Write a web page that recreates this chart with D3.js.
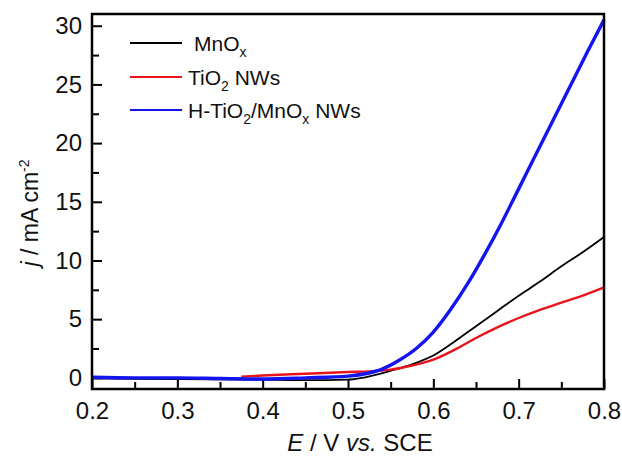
<!DOCTYPE html>
<html lang="en">
<head>
    <meta charset="utf-8">
    <title>LSV curves</title>
    <style>
        body { margin: 0; background: #fff; }
        svg text { font-family: "Liberation Sans", Arial, sans-serif; fill: #111; }
        .tick text { font-size: 24px; }
        .tick line { stroke: #000; stroke-width: 2; }
        .domain { display: none; }
    </style>
    <script src="https://cdn.jsdelivr.net/npm/d3@7"></script>
</head>
<body>
    <svg width="622" height="457"></svg>
    <script>
        // potential (V vs SCE) and current density (mA cm-2)
        const mnoxE = [0.2, 0.3, 0.4, 0.45, 0.5, 0.52, 0.55, 0.575, 0.6, 0.625, 0.65, 0.675, 0.7, 0.725, 0.75, 0.775, 0.8];
        const mnoxJ = [-0.05, -0.1, -0.15, -0.2, -0.15, 0.05, 0.6, 1.15, 1.9, 3.1, 4.4, 5.7, 7.0, 8.2, 9.5, 10.7, 12.0];

        const tioE = [0.375, 0.4, 0.45, 0.5, 0.525, 0.55, 0.575, 0.6, 0.625, 0.65, 0.675, 0.7, 0.725, 0.75, 0.775, 0.8];
        const tioJ = [0.1, 0.2, 0.35, 0.5, 0.55, 0.7, 1.05, 1.55, 2.4, 3.4, 4.3, 5.1, 5.8, 6.4, 7.0, 7.7];

        const htioE = [0.2, 0.25, 0.3, 0.35, 0.4, 0.45, 0.5, 0.52, 0.54, 0.56, 0.58, 0.6, 0.62, 0.64, 0.66, 0.68, 0.7, 0.72, 0.74, 0.76, 0.78, 0.8];
        const htioJ = [0.05, 0.0, 0.0, -0.05, -0.1, 0.0, 0.15, 0.35, 0.75, 1.5, 2.5, 3.9, 5.8, 8.0, 10.5, 13.2, 16.1, 19.0, 21.9, 24.8, 27.7, 30.5];

        const xTicks = [0.2, 0.3, 0.4, 0.5, 0.6, 0.7, 0.8];
        const xMinor = [0.25, 0.35, 0.45, 0.55, 0.65, 0.75];
        const yTicks = [0, 5, 10, 15, 20, 25, 30];
        const yMinor = [2.5, 7.5, 12.5, 17.5, 22.5, 27.5];

        const series = [
            { name: "black", E: mnoxE, J: mnoxJ, color: "#000", w: 1.8 },
            { name: "red", E: tioE, J: tioJ, color: "#e8141c", w: 2.4 },
            { name: "blue", E: htioE, J: htioJ, color: "#1414ee", w: 3.4 }
        ];

        var svg = d3.select("svg");
        var pl = 92, pr = 604, pt = 14, pb = 389;

        var x = d3.scaleLinear().domain([0.2, 0.8]).range([pl, pr]);
        var y = d3.scaleLinear().domain([-0.95, 31]).range([pb, pt]);

        // axes with inward ticks
        svg.append("g")
            .attr("transform", "translate(0," + pb + ")")
            .call(d3.axisBottom(x).tickValues(xTicks).tickSize(-10).tickPadding(13).tickFormat(d3.format(".1f")));
        svg.append("g")
            .attr("transform", "translate(0," + pb + ")")
            .call(d3.axisBottom(x).tickValues(xMinor).tickSize(-7).tickFormat(""));
        svg.append("g")
            .attr("transform", "translate(" + pl + ",0)")
            .call(d3.axisLeft(y).tickValues(yTicks).tickSize(-10).tickPadding(10));
        svg.append("g")
            .attr("transform", "translate(" + pl + ",0)")
            .call(d3.axisLeft(y).tickValues(yMinor).tickSize(-7).tickFormat(""));

        var line = d3.line().x(d => x(d[0])).y(d => y(d[1])).curve(d3.curveMonotoneX);

        svg.append("g").selectAll("path")
            .data(series)
            .join("path")
            .attr("d", s => line(s.E.map((e, i) => [e, s.J[i]])))
            .attr("fill", "none")
            .attr("stroke", s => s.color)
            .attr("stroke-width", s => s.w)
            .attr("stroke-linejoin", "round");

        // frame
        svg.append("rect")
            .attr("x", pl).attr("y", pt)
            .attr("width", pr - pl).attr("height", pb - pt)
            .attr("fill", "none").attr("stroke", "#000").attr("stroke-width", 2.5);

        // legend
        var leg = svg.append("g");
        var rows = [
            { color: "#000", y: 43, tx: 194, parts: [["MnO", 0], ["x", 1]] },
            { color: "#e8141c", y: 77, tx: 188, parts: [["TiO", 0], ["2", 1], [" NWs", 0]] },
            { color: "#1414ee", y: 110, tx: 188, parts: [["H-TiO", 0], ["2", 1], ["/MnO", 0], ["x", 1], [" NWs", 0]] }
        ];
        rows.forEach(function (r) {
            leg.append("line")
                .attr("x1", 130).attr("x2", 182)
                .attr("y1", r.y).attr("y2", r.y)
                .attr("stroke", r.color).attr("stroke-width", 1.8);
            var t = leg.append("text")
                .attr("x", r.tx).attr("y", r.y + 8)
                .style("font-size", "21px");
            var sub = false;
            r.parts.forEach(function (p) {
                var ts = t.append("tspan").text(p[0]);
                if (p[1] && !sub) { ts.attr("dy", 6).style("font-size", "14px"); sub = true; }
                else if (!p[1] && sub) { ts.attr("dy", -6); sub = false; }
            });
        });

        // axis titles
        var xt = svg.append("text")
            .attr("x", 360).attr("y", 451)
            .attr("text-anchor", "middle")
            .style("font-size", "24px");
        xt.append("tspan").style("font-style", "italic").text("E");
        xt.append("tspan").text(" / V ");
        xt.append("tspan").style("font-style", "italic").text("vs.");
        xt.append("tspan").text(" SCE");

        var yt = svg.append("text")
            .attr("transform", "translate(38,213) rotate(-90)")
            .attr("text-anchor", "middle")
            .style("font-size", "23px");
        yt.append("tspan").style("font-style", "italic").text("j");
        yt.append("tspan").text(" / mA cm");
        yt.append("tspan").attr("dy", -9).style("font-size", "14px").text("-2");
    </script>
</body>
</html>
